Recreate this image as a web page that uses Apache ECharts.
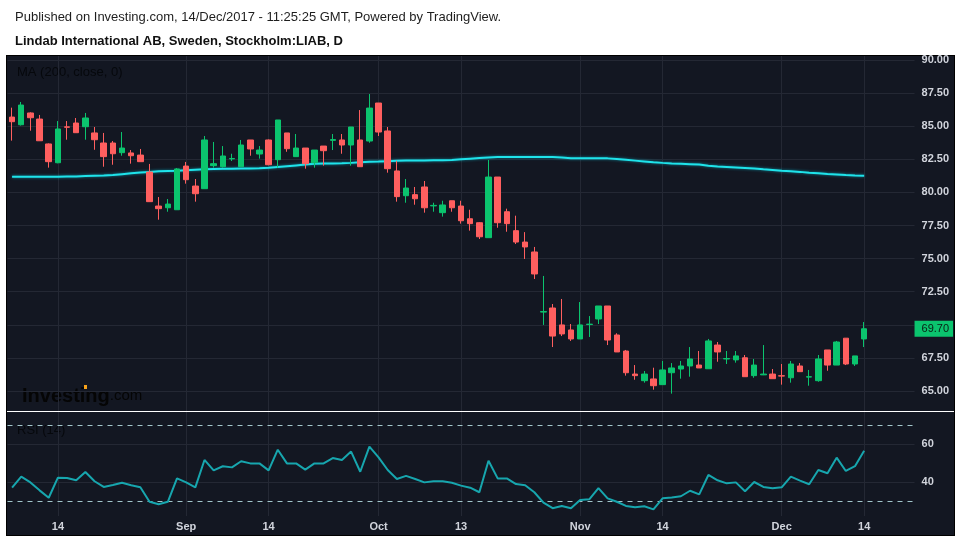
<!DOCTYPE html>
<html>
<head>
<meta charset="utf-8">
<script src="https://cdn.jsdelivr.net/npm/echarts@6/dist/echarts.min.js"></script>
<style>
  html, body { margin: 0; padding: 0; background: #fff; }
  #chart { width: 960px; height: 540px; }
</style>
</head>
<body>
<div id="chart"></div>
<script>
const dates = [
  "2017-08-07", "2017-08-08", "2017-08-09", "2017-08-10", "2017-08-11",
  "2017-08-14", "2017-08-15", "2017-08-16", "2017-08-17", "2017-08-18",
  "2017-08-21", "2017-08-22", "2017-08-23", "2017-08-24", "2017-08-25",
  "2017-08-28", "2017-08-29", "2017-08-30", "2017-08-31", "2017-09-01",
  "2017-09-04", "2017-09-05", "2017-09-06", "2017-09-07", "2017-09-08",
  "2017-09-11", "2017-09-12", "2017-09-13", "2017-09-14", "2017-09-15",
  "2017-09-18", "2017-09-19", "2017-09-20", "2017-09-21", "2017-09-22",
  "2017-09-25", "2017-09-26", "2017-09-27", "2017-09-28", "2017-09-29",
  "2017-10-02", "2017-10-03", "2017-10-04", "2017-10-05", "2017-10-06",
  "2017-10-09", "2017-10-10", "2017-10-11", "2017-10-12", "2017-10-13",
  "2017-10-16", "2017-10-17", "2017-10-18", "2017-10-19", "2017-10-20",
  "2017-10-23", "2017-10-24", "2017-10-25", "2017-10-26", "2017-10-27",
  "2017-10-30", "2017-10-31", "2017-11-01", "2017-11-02", "2017-11-03",
  "2017-11-06", "2017-11-07", "2017-11-08", "2017-11-09", "2017-11-10",
  "2017-11-13", "2017-11-14", "2017-11-15", "2017-11-16", "2017-11-17",
  "2017-11-20", "2017-11-21", "2017-11-22", "2017-11-23", "2017-11-24",
  "2017-11-27", "2017-11-28", "2017-11-29", "2017-11-30", "2017-12-01",
  "2017-12-04", "2017-12-05", "2017-12-06", "2017-12-07", "2017-12-08",
  "2017-12-11", "2017-12-12", "2017-12-13", "2017-12-14"
];
// empty days kept on the right of the last bar
const futureDates = ["2017-12-15", "2017-12-18", "2017-12-19", "2017-12-20", "2017-12-21"];

const opens = [
  85.69, 85.11, 86.00, 85.54, 83.66, 82.24, 84.95, 85.24, 84.96, 84.49,
  83.73, 83.73, 83.00, 82.98, 82.82, 81.54, 78.97, 78.84, 78.69, 81.99,
  80.48, 80.28, 82.02, 81.94, 82.53, 81.94, 83.96, 82.90, 83.96, 82.47,
  84.49, 82.70, 83.35, 82.24, 83.50, 83.93, 83.96, 83.58, 83.96, 83.88,
  86.75, 84.64, 81.62, 79.75, 79.83, 80.41, 78.98, 78.47, 79.37, 78.97,
  78.01, 77.71, 76.58, 81.16, 78.54, 77.11, 76.25, 75.50, 70.96, 71.27,
  69.99, 69.61, 68.93, 70.02, 70.44, 71.42, 69.23, 68.02, 66.28, 65.78,
  65.91, 65.48, 66.38, 66.66, 66.89, 66.96, 66.68, 68.47, 67.42, 67.35,
  67.51, 66.16, 66.22, 66.28, 66.15, 66.00, 66.89, 66.05, 65.78, 68.10,
  66.96, 68.99, 67.04, 68.93
];
const highs = [
  86.40, 86.83, 86.05, 85.85, 83.70, 85.39, 85.39, 85.62, 86.00, 84.94,
  84.49, 83.88, 84.56, 83.20, 83.28, 82.15, 79.65, 79.50, 81.84, 82.30,
  81.01, 84.26, 83.81, 83.50, 82.92, 83.96, 83.96, 83.50, 84.00, 85.47,
  84.49, 84.41, 83.35, 83.20, 83.50, 84.41, 84.41, 84.94, 86.22, 87.43,
  86.75, 84.94, 82.39, 81.01, 80.41, 80.86, 79.22, 79.37, 79.37, 79.37,
  78.69, 77.75, 82.45, 81.16, 78.77, 78.24, 77.00, 75.88, 73.69, 71.57,
  71.95, 70.06, 71.72, 70.66, 71.42, 71.42, 69.36, 68.10, 66.96, 66.51,
  66.76, 67.27, 67.11, 67.27, 68.32, 68.02, 68.93, 68.70, 68.02, 68.02,
  67.72, 67.42, 68.47, 66.66, 67.04, 67.27, 67.11, 66.59, 67.72, 68.10,
  68.78, 68.99, 67.65, 70.21
];
const lows = [
  83.91, 85.05, 84.66, 83.90, 81.87, 82.20, 83.98, 84.51, 83.98, 83.22,
  81.94, 82.09, 82.77, 82.17, 82.32, 79.30, 77.94, 78.54, 78.69, 80.66,
  79.30, 80.28, 81.87, 81.87, 82.37, 81.94, 82.77, 82.55, 82.05, 81.87,
  83.07, 82.70, 81.79, 81.87, 82.02, 83.20, 82.92, 82.02, 81.94, 83.75,
  84.26, 81.49, 79.30, 79.22, 79.07, 78.47, 78.54, 78.17, 78.54, 77.64,
  77.11, 76.48, 76.58, 77.33, 77.03, 76.10, 74.97, 73.46, 69.99, 68.32,
  69.15, 68.78, 68.93, 69.08, 70.06, 68.47, 67.95, 66.16, 65.85, 65.63,
  65.10, 65.48, 64.80, 65.93, 66.08, 66.74, 66.68, 67.21, 67.04, 67.14,
  66.08, 66.00, 66.20, 65.93, 65.48, 65.63, 66.46, 65.40, 65.70, 66.53,
  66.96, 66.96, 66.89, 68.32
];
const closes = [
  85.34, 86.60, 85.64, 83.90, 82.32, 84.79, 84.92, 84.51, 85.62, 83.98,
  82.70, 82.92, 83.35, 82.77, 82.32, 79.30, 78.77, 79.12, 81.77, 80.96,
  79.90, 83.96, 82.17, 82.75, 82.56, 83.58, 83.28, 83.20, 82.09, 85.47,
  83.30, 83.35, 82.17, 83.20, 83.15, 83.99, 83.58, 84.94, 81.94, 86.37,
  84.56, 81.79, 79.68, 80.33, 79.52, 78.84, 79.02, 79.05, 78.84, 77.86,
  77.64, 76.65, 81.16, 77.71, 77.64, 76.25, 75.88, 73.84, 71.00, 69.15,
  69.31, 68.93, 69.99, 70.05, 71.42, 68.85, 67.95, 66.38, 66.16, 66.28,
  65.40, 66.59, 66.74, 66.89, 67.42, 66.74, 68.78, 67.95, 67.45, 67.65,
  66.08, 66.96, 66.28, 65.93, 66.13, 67.04, 66.46, 66.08, 67.42, 66.96,
  68.70, 67.04, 67.65, 69.70
];
const ma200 = [
  81.19, 81.19, 81.19, 81.19, 81.19, 81.19, 81.20, 81.21, 81.23, 81.25,
  81.27, 81.32, 81.38, 81.44, 81.50, 81.55, 81.59, 81.61, 81.63, 81.67,
  81.71, 81.74, 81.76, 81.78, 81.79, 81.80, 81.81, 81.82, 81.86, 81.92,
  81.98, 82.04, 82.10, 82.16, 82.18, 82.19, 82.20, 82.23, 82.27, 82.31,
  82.33, 82.36, 82.39, 82.40, 82.41, 82.41, 82.42, 82.42, 82.45, 82.50,
  82.55, 82.60, 82.64, 82.67, 82.67, 82.67, 82.67, 82.67, 82.67, 82.67,
  82.64, 82.58, 82.58, 82.58, 82.58, 82.57, 82.52, 82.46, 82.40, 82.34,
  82.28, 82.23, 82.19, 82.16, 82.13, 82.10, 82.02, 81.96, 81.92, 81.88,
  81.84, 81.80, 81.74, 81.70, 81.64, 81.60, 81.55, 81.49, 81.44, 81.39,
  81.35, 81.31, 81.28, 81.26
];
const rsi14 = [
  37.0, 42.8, 39.8, 35.6, 31.7, 42.3, 42.1, 40.9, 45.3, 40.4,
  37.4, 38.4, 39.6, 38.3, 37.2, 29.6, 28.3, 29.6, 41.9, 39.8,
  37.2, 51.6, 46.1, 48.3, 47.7, 50.9, 49.8, 49.8, 46.1, 57.0,
  49.8, 49.8, 46.5, 49.8, 49.8, 52.6, 51.6, 56.0, 45.4, 58.6,
  53.0, 46.3, 41.6, 43.2, 41.6, 39.8, 40.4, 40.4, 39.6, 38.1,
  37.0, 34.6, 51.2, 41.9, 41.9, 38.9, 38.3, 34.6, 29.1, 26.2,
  27.4, 26.2, 30.5, 30.9, 36.8, 31.4, 29.6, 27.4, 26.7, 27.2,
  25.6, 31.4, 31.9, 32.5, 35.4, 33.5, 43.7, 40.9, 39.3, 39.8,
  35.1, 40.0, 37.4, 36.7, 37.2, 42.8, 40.7, 38.8, 46.3, 44.6,
  52.8, 45.8, 48.3, 56.5
];
const tickLabels = {
  "2017-08-14": "14", "2017-09-01": "Sep", "2017-09-14": "14",
  "2017-10-02": "Oct", "2017-10-13": "13", "2017-11-01": "Nov",
  "2017-11-14": "14", "2017-12-01": "Dec", "2017-12-14": "14"
};
const rsiLevels = [30, 40, 60, 70];
const lastPrice = closes[closes.length - 1];

const cats = dates.concat(futureDates);
const candles = dates.map((d, i) => [opens[i], closes[i], lows[i], highs[i]]);

const font = 'Arial, "Liberation Sans", sans-serif';
const upColor = "#0bc46e";
const downColor = "#ff5f5f";
const gridColor = "#242834";
const labelColor = "#d1d4dc";
const bandW = 9.162;
const plotLeft = 7.5;
const plotWidth = cats.length * bandW;
const isTick = (i, v) => v in tickLabels;

const chart = echarts.init(document.getElementById("chart"));
chart.setOption({
  backgroundColor: "#ffffff",
  animation: false,
  textStyle: { fontFamily: font },
  graphic: {
    elements: [
      {
        type: "rect", z: -10, silent: true,
        shape: { x: 6, y: 55, width: 949, height: 481 },
        style: { fill: "#000000" }
      },
      {
        type: "rect", z: -9, silent: true,
        shape: { x: 7, y: 56, width: 947, height: 479 },
        style: { fill: "#131722" }
      },
      {
        type: "rect", z: 100, silent: true,
        shape: { x: 7, y: 411, width: 947, height: 1 },
        style: { fill: "#ffffff" }
      },
      {
        type: "text", x: 15, y: 17,
        style: {
          text: "Published on Investing.com, 14/Dec/2017 - 11:25:25 GMT, Powered by TradingView.",
          fill: "#1e1e1e", font: "13px " + font, verticalAlign: "middle"
        }
      },
      {
        type: "text", x: 15, y: 41,
        style: {
          text: "Lindab International AB, Sweden, Stockholm:LIAB, D",
          fill: "#111", font: "bold 13px " + font, verticalAlign: "middle"
        }
      },
      {
        type: "text", x: 17, y: 72.5,
        style: { text: "MA (200, close, 0)", fill: "#06080c", font: "13px " + font, verticalAlign: "middle" }
      },
      {
        type: "text", x: 17, y: 430,
        style: { text: "RSI (14)", fill: "#06080c", font: "13px " + font, verticalAlign: "middle" }
      },
      {
        type: "text", x: 22, y: 396,
        style: {
          text: "{a|Investing}{b|.com}",
          verticalAlign: "middle",
          rich: {
            a: { fontSize: 20, fontWeight: "bold", fill: "#050505", fontFamily: font },
            b: { fontSize: 15, fill: "#050505", fontFamily: font }
          }
        }
      },
      {
        type: "rect", z: 101, silent: true,
        shape: { x: 84, y: 385, width: 3, height: 4 },
        style: { fill: "#f7a21b" }
      }
    ]
  },
  grid: [
    { left: plotLeft, width: plotWidth, top: 60, height: 331, outerBoundsMode: "none" },
    { left: plotLeft, width: plotWidth, top: 425, height: 76, outerBoundsMode: "none" },
    { left: plotLeft + bandW / 2, width: (cats.length - 1) * bandW, top: 56, height: 460, outerBoundsMode: "none" }
  ],
  xAxis: [
    { type: "category", gridIndex: 0, data: cats, boundaryGap: true, show: false },
    { type: "category", gridIndex: 1, data: cats, boundaryGap: true, show: false },
    {
      type: "category", gridIndex: 2, data: cats, boundaryGap: false,
      axisLine: { show: false },
      axisTick: { show: false },
      axisLabel: {
        interval: isTick,
        formatter: v => tickLabels[v] || "",
        color: labelColor, fontSize: 11, fontWeight: "bold", margin: 5
      },
      splitLine: { show: true, interval: isTick, lineStyle: { color: gridColor, width: 1 } }
    }
  ],
  yAxis: [
    {
      type: "value", gridIndex: 0, position: "right",
      min: 65, max: 90, interval: 2.5,
      axisLine: { show: false },
      axisTick: { show: false },
      axisLabel: {
        color: labelColor, fontSize: 11, fontWeight: "bold", margin: 7,
        formatter: v => (Math.abs(v - 70) < 1e-6 ? "" : v.toFixed(2))
      },
      splitLine: { lineStyle: { color: gridColor, width: 1 } }
    },
    {
      type: "value", gridIndex: 1, position: "right",
      min: 30, max: 70, interval: 10,
      axisLine: { show: false },
      axisTick: { show: false },
      axisLabel: {
        color: labelColor, fontSize: 11, fontWeight: "bold", margin: 7,
        formatter: v => (v === 40 || v === 60 ? String(v) : "")
      },
      splitLine: { show: false }
    },
    { type: "value", gridIndex: 2, min: 0, max: 1, show: false }
  ],
  series: [
    {
      name: "MA (200, close, 0)",
      type: "line",
      xAxisIndex: 0, yAxisIndex: 0,
      data: ma200,
      showSymbol: false,
      z: 2,
      lineStyle: { color: "#1fe3ea", width: 2, shadowColor: "rgba(0,229,255,0.55)", shadowBlur: 3 }
    },
    {
      name: "LIAB",
      type: "candlestick",
      xAxisIndex: 0, yAxisIndex: 0,
      data: candles,
      barWidth: 6,
      clip: false,
      z: 3,
      itemStyle: {
        color: upColor, color0: downColor,
        borderColor: upColor, borderColor0: downColor,
        borderWidth: 1
      },
      markLine: {
        silent: true,
        symbol: "none",
        z: 10,
        data: [{ yAxis: lastPrice }],
        lineStyle: { color: "rgba(0,0,0,0)", width: 0 },
        label: {
          show: true, position: "end", distance: 0,
          formatter: lastPrice.toFixed(2),
          backgroundColor: upColor, color: "#0a1f14",
          fontSize: 11, padding: [3, 4, 2, 7]
        }
      }
    },
    {
      name: "RSI (14)",
      type: "line",
      xAxisIndex: 1, yAxisIndex: 1,
      data: rsi14,
      showSymbol: false,
      clip: false,
      lineStyle: { color: "#17a6ae", width: 2 },
      markLine: {
        silent: true,
        symbol: "none",
        z: 1,
        label: { show: false },
        data: rsiLevels.map(v => ({
          yAxis: v,
          lineStyle: v === 30 || v === 70
            ? { color: "#a3c6cb", type: [5, 5], width: 1 }
            : { color: gridColor, type: "solid", width: 1 }
        }))
      }
    }
  ]
});
</script>
</body>
</html>
